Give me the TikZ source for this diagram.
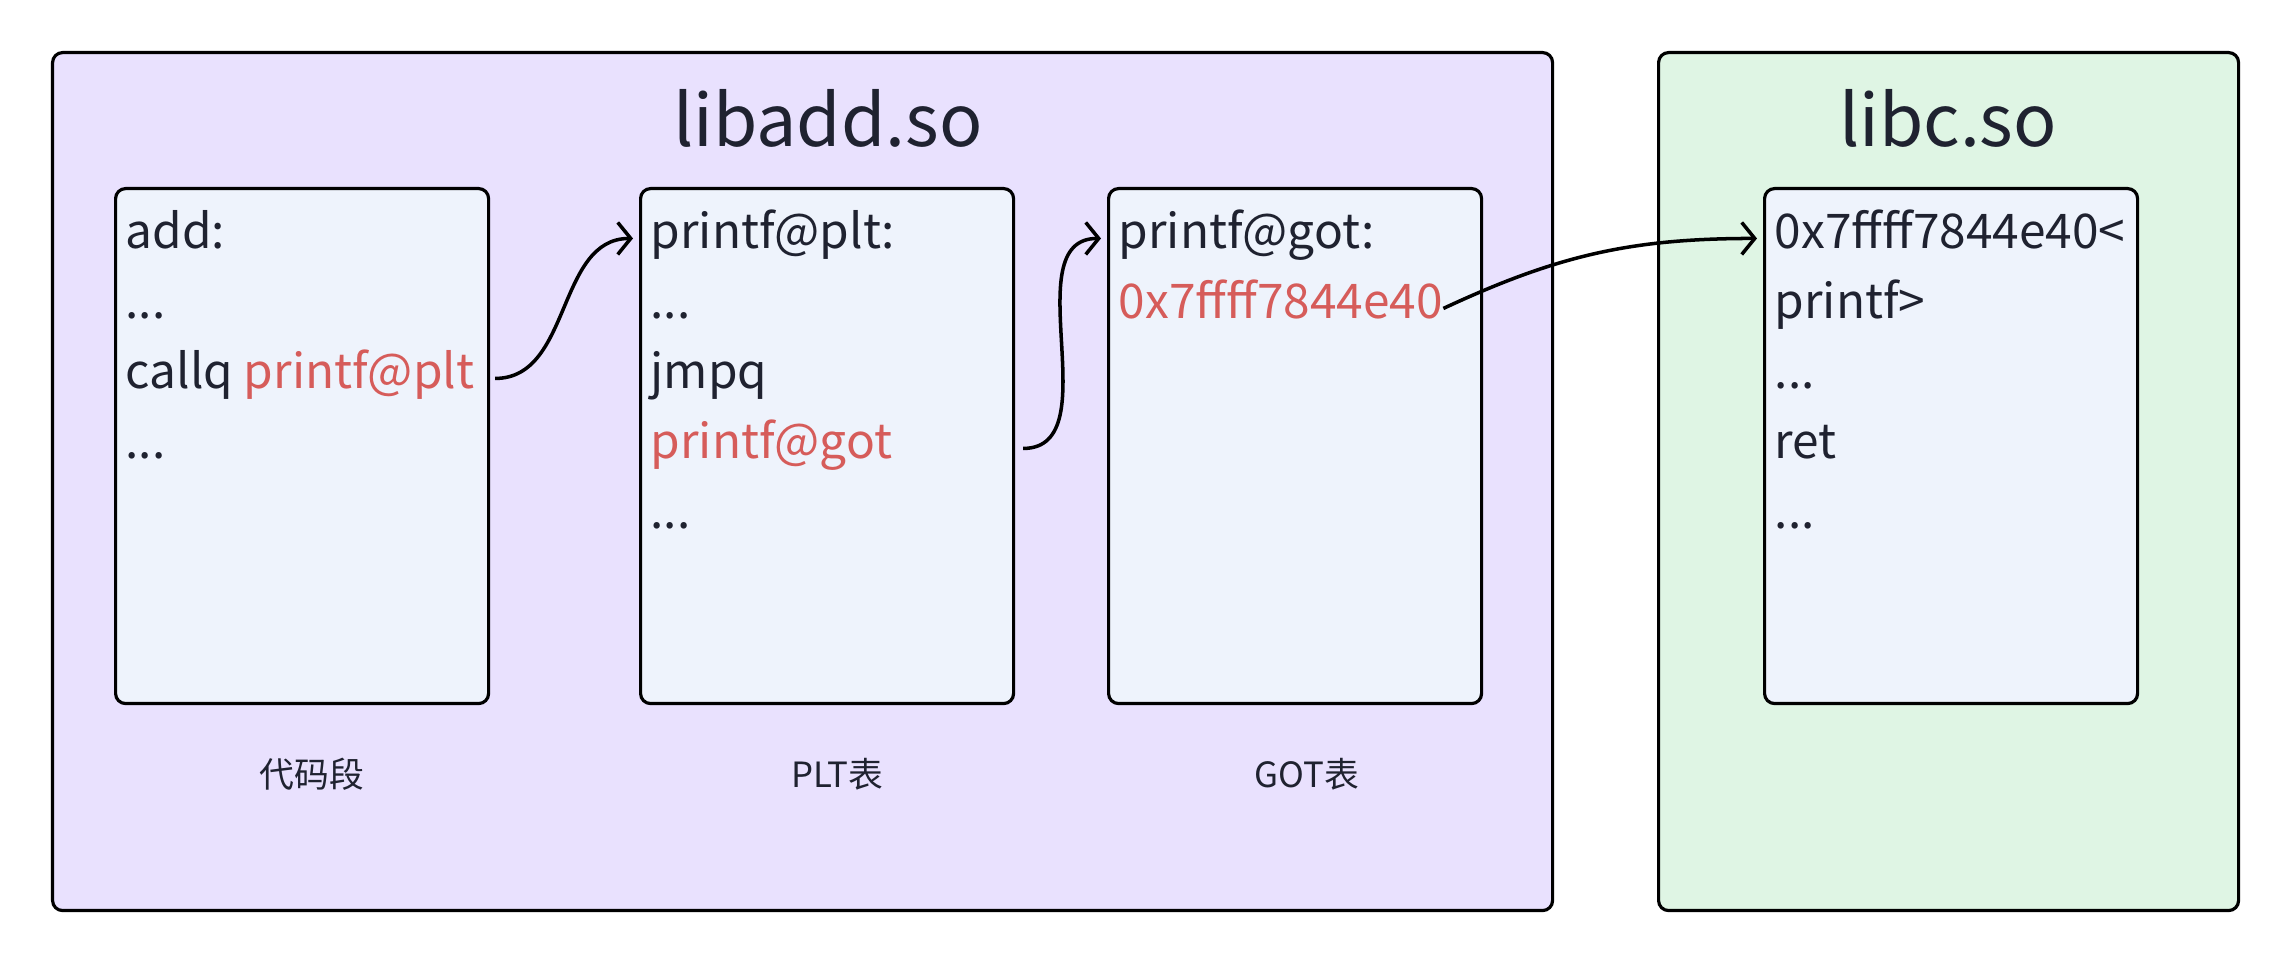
\documentclass[tikz,border=0pt]{standalone}
\usepackage{fontspec}
\setmainfont{Noto Sans CJK SC}
\usetikzlibrary{arrows.meta,positioning,calc}
\definecolor{libbg}{HTML}{E9E1FE}
\definecolor{libcbg}{HTML}{DFF5E4}
\definecolor{cellbg}{HTML}{EEF3FC}
\definecolor{addr}{HTML}{D65C5A}
\definecolor{ink}{HTML}{1F2230}

\begin{document}
\begin{tikzpicture}[
  font=\fontsize{13.6}{16}\selectfont,
  >={Straight Barb[length=1.3mm,width=3.2mm]},
  grp/.style={draw=black,line width=0.9pt,rounded corners=1mm,anchor=north west,
              minimum height=8.58cm,inner sep=0pt},
  cell/.style={draw=black,line width=0.9pt,fill=cellbg,rounded corners=1mm,anchor=north west,
               minimum width=3.73cm,minimum height=5.15cm,inner sep=0pt},
  ln/.style={anchor=base west,inner sep=0pt,text=ink,text height=0.8em,text depth=0.2em},
  ttl/.style={anchor=base,inner sep=0pt,text=ink,font=\fontsize{20.4}{24}\selectfont},
  seglabel/.style={anchor=base,inner sep=0pt,text=ink,font=\fontsize{9.9}{12}\selectfont},
  arr/.style={->,line width=1pt},
]
\useasboundingbox (0,0) rectangle (22.88,-9.62);

% ---- groups ----
\node[grp,fill=libbg,minimum width=15cm] (libadd) at (0.51,-0.51) {};
\node[grp,fill=libcbg,minimum width=5.8cm] (libc) at (16.57,-0.51) {};
\node[ttl] at (8.28,-1.47) {libadd.so};
\node[ttl] at (19.48,-1.47) {libc.so};

% ---- sections ----
\node[cell] (code) at (1.14,-1.87) {};
\node[cell] (plt) at (6.39,-1.87) {};
\node[cell] (got) at (11.07,-1.87) {};
\node[cell] (fn) at (17.63,-1.87) {};
\node[seglabel] at (3.12,-7.88) {代码段};
\node[seglabel] at (8.37,-7.88) {PLT表};
\node[seglabel] at (13.07,-7.88) {GOT表};

% ---- code ----
\node[ln] (c1) at (1.25,-2.49) {add:};
\node[ln] (c2) at (1.25,-3.19) {...};
\node[ln] (c3) at (1.25,-3.89) {callq \textcolor{addr}{printf@plt}};
\node[ln] (c4) at (1.25,-4.59) {...};

% ---- plt ----
\node[ln] (p1) at (6.50,-2.49) {printf@plt:};
\node[ln] (p2) at (6.50,-3.19) {...};
\node[ln] (p3) at (6.50,-3.89) {jmpq};
\node[ln,text=addr] (p4) at (6.50,-4.59) {printf@got};
\node[ln] (p5) at (6.50,-5.29) {...};

% ---- got ----
\node[ln] (g1) at (11.18,-2.49) {printf@got:};
\node[ln,text=addr] (g2) at (11.18,-3.19) {0x7ffff7844e40};

% ---- libc ----
\node[ln] (f1) at (17.74,-2.49) {0x7ffff7844e40<};
\node[ln] (f2) at (17.74,-3.19) {printf>};
\node[ln] (f3) at (17.74,-3.89) {...};
\node[ln] (f4) at (17.74,-4.59) {ret};
\node[ln] (f5) at (17.74,-5.29) {...};

% ---- jumps ----
\draw[arr] ($(c3.east)+(0.2,0)$) to[out=0,in=180] ($(p1.west)+(-0.17,0)$);
\draw[arr] ($(plt.east |- p4.east)+(0.08,0)$) to[out=0,in=180] ($(g1.west)+(-0.17,0)$);
\draw[arr] (g2.east) to[out=25,in=180] ($(f1.west)+(-0.17,0)$);
\end{tikzpicture}
\end{document}
